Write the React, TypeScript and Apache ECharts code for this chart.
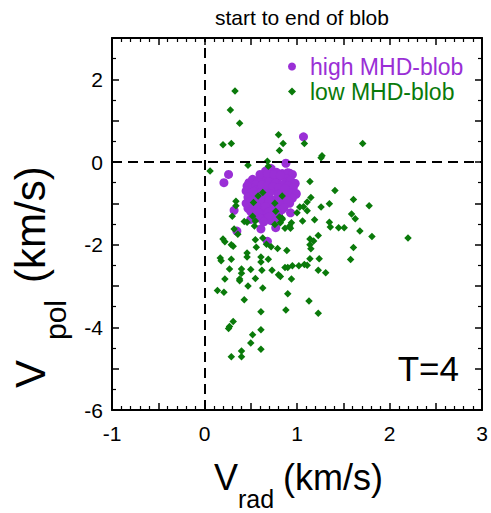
import React, { useEffect, useRef } from "react";
import * as echarts from "echarts";

const titleText = "start to end of blob";
const seriesNames = ["high MHD-blob", "low MHD-blob"];
const xTicks = { min: -1, max: 3 };
const yTicks = { min: -6, max: 3 };

const highBlob: number[][] = [
  [1.07, 0.61], [0.88, -0.03], [0.26, -0.3], [0.21, -0.5], [0.32, -1.17], [0.35, -1.67],
  [0.61, -1.62], [0.68, -1.92], [0.77, -1.59], [0.5, -1.39], [0.93, -1.23], [0.92, -0.27],
  [0.9, -0.27], [0.975, -0.52], [0.99, -0.76], [0.72, -0.16],
  [0.66, -0.22], [0.72, -0.2], [0.78, -0.25], [0.84, -0.28], [0.9, -0.26], [0.95, -0.3],
  [0.69, -0.34], [0.75, -0.38], [0.81, -0.36], [0.88, -0.4], [0.93, -0.45], [0.98, -0.52],
  [0.64, -0.44], [0.7, -0.48], [0.77, -0.5], [0.84, -0.55], [0.9, -0.58], [0.96, -0.62],
  [0.48, -0.5], [0.52, -0.42], [0.58, -0.45], [0.55, -0.55], [0.5, -0.62], [0.46, -0.58],
  [0.45, -0.7], [0.5, -0.75], [0.56, -0.68], [0.61, -0.62], [0.66, -0.7], [0.72, -0.66],
  [0.78, -0.72], [0.85, -0.7], [0.92, -0.74], [0.99, -0.78],
  [0.47, -0.85], [0.53, -0.88], [0.59, -0.82], [0.64, -0.9], [0.7, -0.85], [0.76, -0.92],
  [0.82, -0.86], [0.88, -0.9], [0.95, -0.88],
  [0.45, -1.0], [0.51, -1.02], [0.57, -0.98], [0.62, -1.05], [0.68, -1.0], [0.74, -1.06],
  [0.8, -1.0], [0.86, -1.04], [0.92, -1.0],
  [0.47, -1.12], [0.53, -1.15], [0.6, -1.12], [0.66, -1.18], [0.72, -1.14], [0.78, -1.2],
  [0.84, -1.15], [0.55, -1.26], [0.62, -1.3], [0.68, -1.25], [0.74, -1.32], [0.8, -1.28],
  [0.66, -1.38], [0.72, -1.42],
  [0.6, -0.3], [0.68, -0.28], [0.75, -0.3], [0.82, -0.32], [0.62, -0.55], [0.68, -0.58],
  [0.74, -0.6], [0.8, -0.62], [0.87, -0.64], [0.53, -0.72], [0.6, -0.74], [0.7, -0.76],
  [0.8, -0.78], [0.88, -0.8], [0.5, -0.95], [0.6, -0.92], [0.7, -0.94], [0.8, -0.95],
  [0.9, -0.94], [0.56, -1.06], [0.66, -1.08], [0.76, -1.1], [0.86, -1.1], [0.5, -1.2],
  [0.58, -1.22], [0.7, -1.2], [0.76, -1.26], [0.6, -1.36], [0.7, -1.32], [0.78, -1.36],
  [0.64, -1.45],
];

const lowBlob: number[][] = [
  [0.33, 1.72], [0.28, 1.26], [0.38, 0.94], [0.2, 0.42], [0.29, 0.45], [0.8, 0.66], [0.85, 0.45],
  [0.81, 0.28], [1.08, 0.45], [1.27, 0.15], [1.26, 0.1], [1.71, 0.45],
  [0.06, -0.22], [0.47, -0.08], [0.68, 0.02], [0.69, -0.1], [1.14, -0.47], [1.41, -0.69],
  [1.15, -0.86], [1.61, -0.91], [1.78, -1.06], [1.35, -1.01], [1.11, -0.97], [1.07, -1.08],
  [1.11, -1.18], [1.26, -1.09], [1.59, -1.26], [1.63, -1.37], [1.68, -1.67], [1.81, -1.8],
  [2.2, -1.84], [1.35, -1.46], [1.45, -1.59], [1.51, -1.59], [1.36, -1.57], [1.19, -1.4],
  [1.06, -1.43], [0.93, -1.6], [0.94, -1.47], [0.84, -1.36], [0.82, -1.47], [0.46, -1.46],
  [0.32, -1.62], [0.34, -0.95], [0.34, -1.06], [0.3, -1.31], [0.2, -1.86], [0.29, -2.0],
  [0.31, -2.04], [0.17, -2.32], [0.18, -2.39], [0.29, -2.35], [0.27, -2.59], [0.22, -2.83],
  [0.14, -3.11], [0.21, -3.15], [0.38, -2.83], [0.38, -2.87], [0.4, -2.59], [0.4, -2.69],
  [0.47, -3.0], [0.43, -3.33], [0.5, -2.6], [0.46, -2.3], [0.46, -2.2], [0.56, -2.06],
  [0.55, -1.88], [0.63, -1.84], [0.67, -1.99], [0.72, -2.05], [0.61, -2.3], [0.69, -2.35],
  [0.61, -2.42], [0.79, -2.09], [0.89, -2.14], [0.73, -2.62], [0.8, -2.73], [0.82, -2.77],
  [0.87, -2.55], [0.9, -2.55], [0.95, -2.51], [1.02, -2.51], [1.08, -2.48], [1.11, -2.5],
  [0.94, -2.83], [1.14, -2.34], [1.24, -2.34], [1.23, -2.62], [1.31, -2.68], [1.15, -2.1],
  [1.14, -2.0], [1.14, -1.86], [1.18, -1.91], [1.23, -1.78], [1.61, -2.07], [1.58, -2.36],
  [0.9, -3.19], [0.88, -3.58], [1.13, -3.36], [1.23, -3.66], [0.63, -3.05], [0.61, -3.62],
  [0.61, -4.06], [0.61, -4.53], [0.52, -4.18], [0.5, -4.38], [0.4, -4.57], [0.4, -4.71],
  [0.29, -4.71], [0.31, -3.86], [0.27, -3.98], [0.26, -4.03], [0.52, -1.31], [0.55, -1.43],
  [0.54, -1.55], [0.63, -0.74], [0.58, -0.82], [0.84, -0.82], [0.77, -1.19], [0.81, -1.33],
  [0.84, -1.39], [0.76, -1.51], [1.03, -1.09], [1.0, -1.23], [0.92, -1.55], [0.62, -2.62],
  [0.55, -2.82], [0.53, -0.98], [0.76, -1.0], [0.36, -1.75], [0.22, -1.93], [0.43, -1.44],
  [0.87, -1.6],
];

const PURPLE = "#9a2fd6";
const GREEN = "#0a7a0a";
const FONT = '"Liberation Sans", Arial, Helvetica, sans-serif';

export default function App() {
  const ref = useRef<HTMLDivElement>(null);
  useEffect(() => {
    if (!ref.current) return;
    const chart = echarts.init(ref.current, null, { renderer: "svg" });
    const xCommon = {
      type: "value" as const,
      min: xTicks.min,
      max: xTicks.max,
      interval: 0.5,
      splitLine: { show: false },
      axisLine: { show: true, onZero: false, lineStyle: { color: "#000", width: 2 } },
      axisTick: { show: true, inside: true, length: 7, lineStyle: { color: "#000", width: 1.5 } },
      minorTick: { show: true, splitNumber: 5, length: 4, lineStyle: { color: "#000", width: 1.2 } },
    };
    const yCommon = {
      type: "value" as const,
      min: yTicks.min,
      max: yTicks.max,
      interval: 1,
      splitLine: { show: false },
      axisLine: { show: true, onZero: false, lineStyle: { color: "#000", width: 2 } },
      axisTick: { show: true, inside: true, length: 7, lineStyle: { color: "#000", width: 1.5 } },
      minorTick: { show: true, splitNumber: 2, length: 4, lineStyle: { color: "#000", width: 1.2 } },
    };
    chart.setOption({
      animation: false,
      backgroundColor: "#fff",
      title: {
        text: titleText,
        left: 297,
        top: 2,
        textAlign: "center",
        textStyle: { fontFamily: FONT, fontSize: 21, fontWeight: "normal", color: "#000" },
      },
      grid: { left: 112, right: 9, top: 38, bottom: 103 },
      legend: {
        orient: "vertical",
        left: 283,
        top: 49,
        itemWidth: 8,
        itemHeight: 8,
        itemGap: 0,
        data: [
          { name: seriesNames[0], textStyle: { color: PURPLE } },
          { name: seriesNames[1], textStyle: { color: GREEN } },
        ],
        textStyle: { fontFamily: FONT, fontSize: 23, lineHeight: 25, padding: [0, 0, 0, 9] },
      },
      xAxis: [
        {
          ...xCommon,
          position: "bottom",
          axisLabel: {
            show: true,
            margin: 13,
            fontFamily: FONT,
            fontSize: 21,
            color: "#000",
            formatter: (v: number) => (Number.isInteger(v) ? String(v) : ""),
          },
        },
        { ...xCommon, position: "top", axisLabel: { show: false } },
      ],
      yAxis: [
        {
          ...yCommon,
          position: "left",
          axisLabel: {
            show: true,
            margin: 9,
            fontFamily: FONT,
            fontSize: 21,
            color: "#000",
            formatter: (v: number) => (Math.round(v) % 2 === 0 ? String(v) : ""),
          },
        },
        { ...yCommon, position: "right", axisLabel: { show: false } },
      ],
      graphic: [
        { type: "text", x: 214, y: 477, style: { text: "V", font: `36px ${FONT}`, fill: "#000", textAlign: "left", textVerticalAlign: "middle" } },
        { type: "text", x: 238, y: 499, style: { text: "rad", font: `25px ${FONT}`, fill: "#000", textAlign: "left", textVerticalAlign: "middle" } },
        { type: "text", x: 283, y: 477, style: { text: "(km/s)", font: `36px ${FONT}`, fill: "#000", textAlign: "left", textVerticalAlign: "middle" } },
        { type: "text", x: 30, y: 388, rotation: Math.PI / 2, style: { text: "V", font: `42px ${FONT}`, fill: "#000", textAlign: "left", textVerticalAlign: "middle" } },
        { type: "text", x: 55, y: 340, rotation: Math.PI / 2, style: { text: "pol", font: `30px ${FONT}`, fill: "#000", textAlign: "left", textVerticalAlign: "middle" } },
        { type: "text", x: 30, y: 283, rotation: Math.PI / 2, style: { text: "(km/s)", font: `42px ${FONT}`, fill: "#000", textAlign: "left", textVerticalAlign: "middle" } },
        { type: "text", x: 459, y: 368, style: { text: "T=4", font: `35px ${FONT}`, fill: "#000", textAlign: "right", textVerticalAlign: "middle" } },
      ],
      series: [
        {
          name: seriesNames[0],
          type: "scatter",
          data: highBlob,
          symbol: "circle",
          symbolSize: 9,
          itemStyle: { color: PURPLE, opacity: 1 },
          z: 2,
          markLine: {
            silent: true,
            symbol: ["none", "none"],
            label: { show: false },
            lineStyle: { color: "#000", width: 2, type: [10, 6], opacity: 1 },
            data: [{ xAxis: 0 }, { yAxis: 0 }],
          },
        },
        {
          name: seriesNames[1],
          type: "scatter",
          data: lowBlob,
          symbol: "diamond",
          symbolSize: 7.5,
          itemStyle: { color: GREEN, opacity: 1 },
          z: 3,
        },
      ],
    });
    return () => chart.dispose();
  }, []);
  return <div ref={ref} style={{ position: "fixed", left: 0, top: 0, width: 491, height: 513 }} />;
}
